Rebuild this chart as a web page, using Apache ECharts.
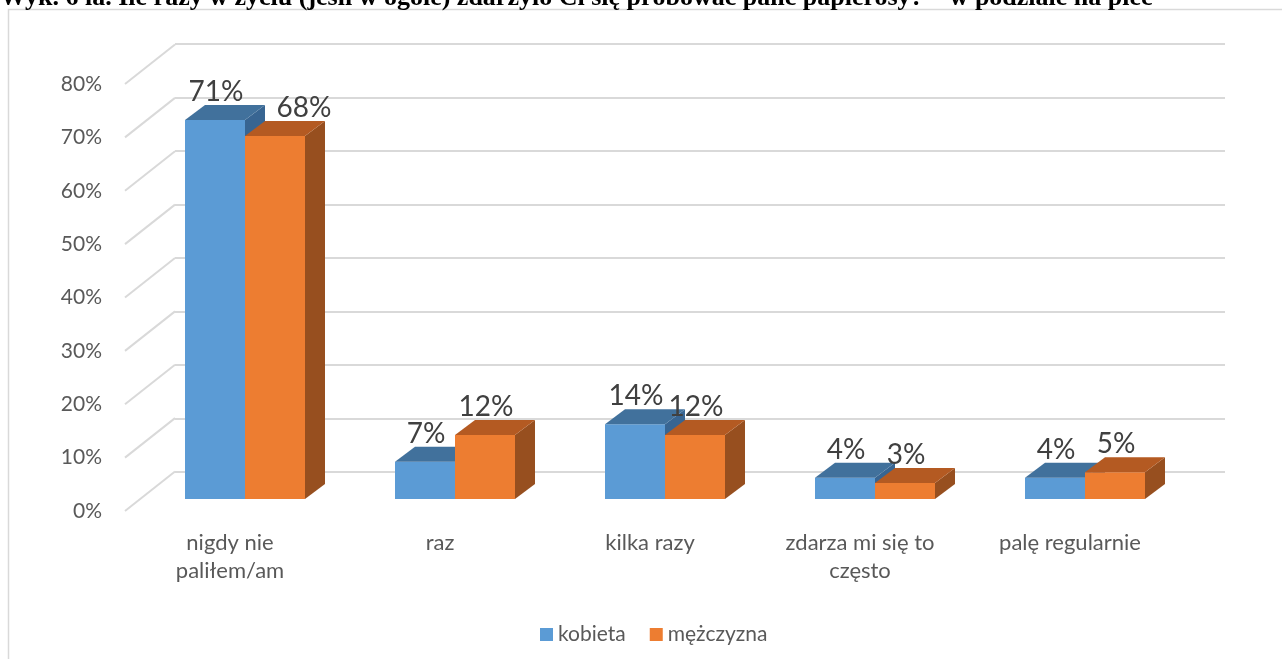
<!DOCTYPE html>
<html><head><meta charset="utf-8">
<script src="https://cdn.jsdelivr.net/npm/echarts@6/dist/echarts.min.js"></script>
<style>html,body{margin:0;padding:0;background:#fff}#c{width:1282px;height:659px}</style>
</head><body><div id="c"></div>
<script>
const titleText = 'Wyk. 6 la. Ile razy w życiu (jeśli w ogóle) zdarzyło Ci się próbować palić papierosy? – w podziale na płeć';
const categories = ['nigdy nie\npaliłem/am', 'raz', 'kilka razy', 'zdarza mi się to\nczęsto', 'palę regularnie'];
const seriesNames = ['kobieta', 'mężczyzna'];
const kobieta = [71, 7, 14, 4, 4];
const mezczyzna = [68, 12, 12, 3, 5];
const yTicks = [0, 10, 20, 30, 40, 50, 60, 70, 80];

const FONT = 'Lato';
const front = ['#5B9BD5', '#ED7D31'];
const topC = ['#41719C', '#B45A22'];
const sideC = ['#386592', '#974F1F'];
const labelNudge = [{}, {0: 28}];

function barRenderer(si) {
  return function (params, api) {
    const i = api.value(0), v = api.value(1);
    const c = api.coord([i, v]);
    const c0 = api.coord([i, 0]);
    const band = api.size([1, 0])[0];
    const w = band * 60 / 210;
    const dx = band * 20 / 210, dy = -band * 15 / 210;
    const x0 = si === 0 ? c[0] - w : c[0];
    const x1 = x0 + w;
    const yt = c[1], yb = c0[1];
    const nud = labelNudge[si][i] || 0;
    return {
      type: 'group',
      children: [
        {type: 'polygon', shape: {points: [[x1, yt], [x1 + dx, yt + dy], [x1 + dx, yb + dy], [x1, yb]]}, style: {fill: sideC[si]}},
        {type: 'rect', shape: {x: x0, y: yt, width: w, height: yb - yt}, style: {fill: front[si]}},
        {type: 'polygon', shape: {points: [[x0, yt], [x0 + dx, yt + dy], [x1 + dx, yt + dy], [x1, yt]]}, style: {fill: topC[si]}},
        {type: 'text', z2: 100, x: (x0 + x1) / 2 + 1 + nud, y: yt + dy + 1,
          style: {text: v + '%', textAlign: 'center', textVerticalAlign: 'bottom', fontSize: 28, fontFamily: FONT, fill: '#404040'}}
      ]
    };
  };
}

const chart = echarts.init(document.getElementById('c'), null, {renderer: 'canvas'});
chart.setOption({
  animation: false,
  textStyle: {fontFamily: FONT},
  graphic: [
    {type: 'rect', shape: {x: 8.5, y: 9.5, width: 1400, height: 800}, style: {fill: 'none', stroke: '#d9d9d9', lineWidth: 1.5}, z: -10},
    {type: 'text', x: 0, y: 11, style: {text: titleText, font: 'bold 26px "Liberation Serif"', fill: '#000', textVerticalAlign: 'bottom'}, z: 10}
  ],
  grid: [
    {left: 140, top: 72, width: 1050, height: 427},
    {left: 175, top: 44, width: 1050, height: 428},
    {left: 125, top: 84, width: 1050, height: 427}
  ],
  xAxis: [
    {gridIndex: 0, type: 'category', data: categories, show: false},
    {gridIndex: 1, type: 'value', min: 0, max: 1, show: false},
    {gridIndex: 2, type: 'category', data: categories, axisLine: {show: false}, axisTick: {show: false},
      axisLabel: {interval: 0, fontSize: 22, color: '#595959', lineHeight: 28, margin: 18, fontFamily: FONT}}
  ],
  yAxis: [
    {gridIndex: 0, type: 'value', min: 0, max: 80, interval: 10, show: false},
    {gridIndex: 1, type: 'value', min: 0, max: 80, interval: 10, axisLabel: {show: false}, axisLine: {show: false}, axisTick: {show: false},
      splitLine: {lineStyle: {color: '#d9d9d9', width: 2}}},
    {gridIndex: 2, type: 'value', min: 0, max: 80, interval: 10, axisLine: {show: false}, axisTick: {show: false}, splitLine: {show: false},
      axisLabel: {formatter: '{value}%', fontSize: 21, color: '#595959', margin: 23, fontFamily: FONT}}
  ],
  legend: {
    data: seriesNames, left: 535, top: 619, icon: 'rect', itemWidth: 13, itemHeight: 13, itemGap: 24,
    textStyle: {fontSize: 21, color: '#595959', fontFamily: FONT}
  },
  series: [
    {
      type: 'custom', name: 'diag', silent: true, xAxisIndex: 2, yAxisIndex: 2,
      data: yTicks.map(v => [0, v]),
      renderItem: function (params, api) {
        const y = api.coord([0, api.value(1)])[1];
        const x = params.coordSys.x;
        return {type: 'line', shape: {x1: x, y1: y, x2: x + 50, y2: y - 39.5}, style: {stroke: '#d9d9d9', lineWidth: 2}};
      }
    },
    {type: 'custom', name: seriesNames[0], xAxisIndex: 0, yAxisIndex: 0, itemStyle: {color: front[0]},
      data: kobieta.map((v, i) => [i, v]), renderItem: barRenderer(0)},
    {type: 'custom', name: seriesNames[1], xAxisIndex: 0, yAxisIndex: 0, itemStyle: {color: front[1]},
      data: mezczyzna.map((v, i) => [i, v]), renderItem: barRenderer(1)}
  ]
});
</script></body></html>
